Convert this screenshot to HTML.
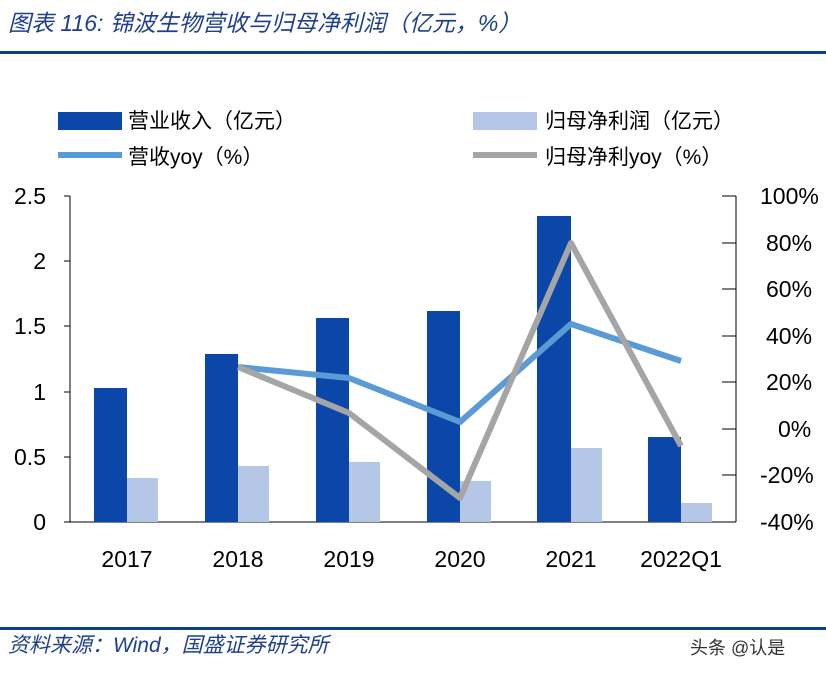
<!DOCTYPE html>
<html><head><meta charset="utf-8"><style>
body{margin:0;background:#fff;}
svg{display:block;font-family:"Liberation Sans","Noto Sans CJK SC",sans-serif;}
</style></head><body>
<svg width="826" height="677" viewBox="0 0 826 677">
<text x="8" y="31" font-size="23" fill="#1f3f8f" font-style="italic" font-family="Liberation Sans,Noto Sans CJK SC,sans-serif">图表 116:  锦波生物营收与归母净利润（亿元，%）</text>
<rect x="0" y="51" width="826" height="3" fill="#0c3d8a"/>
<!-- legend -->
<rect x="58" y="112" width="64" height="18" fill="#0a47a8"/>
<text x="128" y="128" font-size="21" fill="#000">营业收入（亿元）</text>
<rect x="473" y="112" width="64" height="18" fill="#b4c7e7"/>
<text x="545" y="128" font-size="21" fill="#000">归母净利润（亿元）</text>
<line x1="58" y1="155" x2="122" y2="155" stroke="#5b9bd5" stroke-width="6"/>
<text x="128" y="164" font-size="21" fill="#000">营收yoy（%）</text>
<line x1="473" y1="155" x2="537" y2="155" stroke="#a5a5a5" stroke-width="6"/>
<text x="545" y="164" font-size="21" fill="#000">归母净利yoy（%）</text>
<!-- axes -->
<g stroke="#000" stroke-width="1">
<line x1="70" y1="196" x2="70" y2="522"/>
<line x1="70" y1="522" x2="736" y2="522"/>
<line x1="736" y1="196" x2="736" y2="522"/>
<line x1="64" y1="196" x2="70" y2="196"/><line x1="64" y1="261" x2="70" y2="261"/><line x1="64" y1="326" x2="70" y2="326"/><line x1="64" y1="392" x2="70" y2="392"/><line x1="64" y1="457" x2="70" y2="457"/><line x1="64" y1="522" x2="70" y2="522"/>
<line x1="722" y1="196" x2="736" y2="196"/><line x1="722" y1="243" x2="736" y2="243"/><line x1="722" y1="289" x2="736" y2="289"/><line x1="722" y1="336" x2="736" y2="336"/><line x1="722" y1="382" x2="736" y2="382"/><line x1="722" y1="429" x2="736" y2="429"/><line x1="722" y1="475" x2="736" y2="475"/><line x1="722" y1="522" x2="736" y2="522"/>
</g>
<g font-size="23" fill="#000" text-anchor="end">
<text x="46" y="204">2.5</text><text x="46" y="269">2</text><text x="46" y="334">1.5</text><text x="46" y="400">1</text><text x="46" y="465">0.5</text><text x="46" y="530">0</text>
</g>
<g font-size="23" fill="#000" text-anchor="start">
<text x="760" y="204">100%</text><text x="766" y="251">80%</text><text x="766" y="297">60%</text><text x="766" y="344">40%</text><text x="766" y="390">20%</text><text x="778" y="437">0%</text><text x="760" y="483">-20%</text><text x="760" y="530">-40%</text>
</g>
<g font-size="23" fill="#000" text-anchor="middle">
<text x="127" y="567">2017</text><text x="238" y="567">2018</text><text x="349" y="567">2019</text><text x="460" y="567">2020</text><text x="571" y="567">2021</text><text x="681" y="567">2022Q1</text>
</g>
<!-- bars -->
<g fill="#0a47a8">
<rect x="94" y="388" width="33" height="134"/><rect x="205" y="354" width="33" height="168"/><rect x="316" y="318" width="33" height="204"/><rect x="427" y="311" width="33" height="211"/><rect x="537" y="216" width="34" height="306"/><rect x="648" y="437" width="33" height="85"/>
</g>
<g fill="#b4c7e7">
<rect x="127" y="478" width="31" height="44"/><rect x="238" y="466" width="31" height="56"/><rect x="349" y="462" width="31" height="60"/><rect x="460" y="481" width="31" height="41"/><rect x="571" y="448" width="31" height="74"/><rect x="681" y="503" width="31" height="19"/>
</g>
<polyline points="238,367 349,378 460,422 571,324 681,361" fill="none" stroke="#5b9bd5" stroke-width="6" stroke-linejoin="round"/>
<polyline points="238,367 349,413 460,498 571,243 681,446" fill="none" stroke="#a5a5a5" stroke-width="6" stroke-linejoin="round"/>
<rect x="0" y="627" width="826" height="3" fill="#0c3d8a"/>
<text x="8" y="652" font-size="21" fill="#1f3f8f" font-style="italic">资料来源：Wind，国盛证券研究所</text>
<text x="690" y="654" font-size="18" fill="#333">头条 @认是</text>
</svg>
</body></html>
